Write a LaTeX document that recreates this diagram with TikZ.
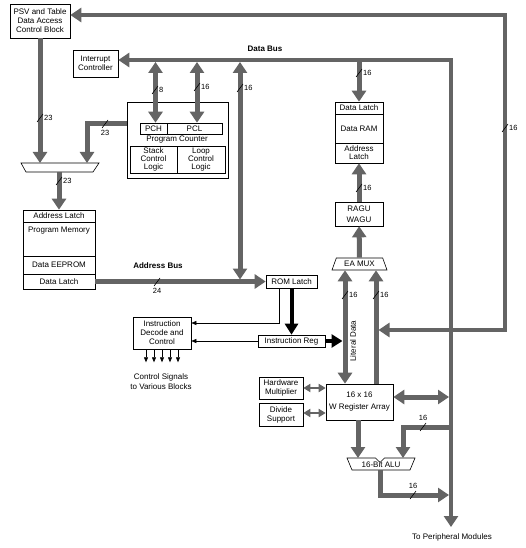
\documentclass[tikz,border=0pt]{standalone}
\usepackage{fontspec}
\setmainfont{Liberation Sans}
\usepackage{tikz}
\usetikzlibrary{arrows.meta,shapes.geometric}

\definecolor{busgray}{RGB}{100,100,100}

\tikzset{
    box/.style={draw, line width=0.6pt, inner sep=0pt, align=center, font=\fontsize{8}{9}\selectfont},
    txt/.style={inner sep=0pt, align=center, font=\fontsize{8}{9}\selectfont},
    bwtxt/.style={inner sep=0pt, font=\fontsize{7.5}{8}\selectfont},
    bus/.style={draw=busgray, line width=5pt},
    ringbus/.style={draw=busgray, line width=4pt},
    sidebus/.style={draw=busgray, line width=2.5pt},
    ctlbus/.style={draw=black, line width=4pt},
    sigline/.style={draw=black, line width=0.6pt},
    bigtri/.tip={Triangle[width=14pt,length=11pt]},
    midtri/.tip={Triangle[width=8pt,length=7pt]},
    ctltri/.tip={Triangle[width=13pt,length=11pt]},
    sigtri/.tip={Triangle[width=4pt,length=5pt]},
}

% bus width marks
\newcommand{\bwright}[3]{%
    \draw[sigline] (#1-3,#2+4) -- (#1+3,#2-4);
    \node[bwtxt, anchor=west] at (#1+4,#2) {#3};}
\newcommand{\bwbelow}[3]{%
    \draw[sigline] (#1-3,#2+4) -- (#1+3,#2-4);
    \node[bwtxt, anchor=north] at (#1,#2+6) {#3};}
\newcommand{\bwabove}[3]{%
    \draw[sigline] (#1-3,#2+4) -- (#1+3,#2-4);
    \node[bwtxt, anchor=south] at (#1,#2-6) {#3};}

\begin{document}
\begin{tikzpicture}[x=1pt,y=-1pt]
    \useasboundingbox (0,0) rectangle (526,548);

    % blocks
    \node[box, minimum width=60pt, minimum height=34pt] (psv) at (40,21) {PSV and Table\\Data Access\\Control Block};
    \node[box, minimum width=45pt, minimum height=27pt] (intc) at (95.5,63.5) {Interrupt\\Controller};

    \node[box, minimum width=101pt, minimum height=76pt] (pcblk) at (177.5,140) {};
    \node[box, minimum width=27pt, minimum height=11pt] (pch) at (153.5,128.5) {PCH};
    \node[box, minimum width=55pt, minimum height=11pt] (pcl) at (194.5,128.5) {PCL};
    \node[txt] (pclbl) at (177,140) {Program Counter};
    \node[box, minimum width=47pt, minimum height=27pt, font=\fontsize{8}{7.6}\selectfont] (stack) at (153.5,159.5) {Stack\\Control\\Logic};
    \node[box, minimum width=48pt, minimum height=27pt, font=\fontsize{8}{7.6}\selectfont] (loop) at (201,159.5) {Loop\\Control\\Logic};

    \node[box, minimum width=48pt, minimum height=12pt] (dlatch) at (359,108) {Data Latch};
    \node[box, minimum width=48pt, minimum height=29pt] (dram) at (359,128.5) {Data RAM};
    \node[box, minimum width=48pt, minimum height=20pt, font=\fontsize{8}{8}\selectfont] (alatch) at (359,153) {Address\\Latch};
    \node[box, minimum width=48pt, minimum height=24pt] (agu) at (359,214) {RAGU\\[2pt]WAGU};
    \node[box, trapezium, trapezium angle=63, trapezium stretches=true,
          minimum width=55pt, minimum height=12pt] (eamux) at (359.5,264) {EA MUX};

    % program memory mux
    \coordinate (muxTL) at (21,163);
    \coordinate (muxTR) at (99,163);
    \coordinate (muxBR) at (93,172);
    \coordinate (muxBL) at (26,172);
    \draw[line width=0.6pt] (muxTL) -- (muxTR) -- (muxBR) -- (muxBL) -- cycle;

    \node[box, minimum width=72pt, minimum height=12pt] (pmal) at (59,216) {Address Latch};
    \node[box, minimum width=72pt, minimum height=34pt] (pmem) at (59,239) {};
    \node[txt] (pmlbl) at (59,231) {Program Memory};
    \node[box, minimum width=72pt, minimum height=18pt] (eeprom) at (59,265) {Data EEPROM};
    \node[box, minimum width=72pt, minimum height=15pt] (pmdl) at (59,281.5) {Data Latch};

    \node[box, minimum width=51pt, minimum height=13pt] (romlatch) at (291.5,281.5) {ROM Latch};
    \node[box, minimum width=67pt, minimum height=12pt] (ireg) at (291.5,341) {Instruction Reg};
    \node[box, minimum width=58pt, minimum height=32pt] (idec) at (162,333) {Instruction\\Decode and\\Control};
    \node[txt, font=\fontsize{8}{10}\selectfont] (ctlsig) at (161,382) {Control Signals\\to Various Blocks};

    \node[box, minimum width=44pt, minimum height=22pt] (hwmul) at (281,388) {Hardware\\Multiplier};
    \node[box, minimum width=44pt, minimum height=23pt] (divsup) at (281,414.5) {Divide\\Support};
    \node[box, minimum width=67pt, minimum height=36pt] (wreg) at (359.5,402) {16 x 16\\[3pt]W Register Array};

    % ALU
    \draw[line width=0.6pt] (347,458) -- (375.5,458) -- (380,462.5) -- (384.5,458) -- (415,458)
        -- (410,470) -- (352,470) -- cycle;
    \node[txt] (alulbl) at (381,465) {16-Bit ALU};

    \node[txt] (periph) at (452,537) {To Peripheral Modules};
    \node[txt, font=\bfseries\fontsize{8}{9}\selectfont] (dblbl) at (265,49) {Data Bus};
    \node[txt, font=\bfseries\fontsize{8}{9}\selectfont] (ablbl) at (158,266) {Address Bus};

    % bus points
    \coordinate (ringNE) at (505,15);
    \coordinate (ringSE) at (505,330);
    \coordinate (ringW) at (378.5,330);
    \coordinate (dbNE) at (451,60);
    \coordinate (dbS) at (451,527);
    \coordinate (db) at (0,62);
    \coordinate (dbdrop) at (240,62);
    \coordinate (abus) at (240,279.5);
    \coordinate (litL) at (345,0);
    \coordinate (litR) at (376,0);
    \coordinate (pcout) at (127,124);
    \coordinate (pcturn) at (87,124);
    \coordinate (muxT) at (0,163);
    \coordinate (muxO) at (59,172);
    \coordinate (aluT) at (0,458);
    \coordinate (fbk) at (451,427);
    \coordinate (aluR) at (403,458);
    \coordinate (aluO) at (380,470);
    \coordinate (outR) at (449,495);

    % loops and data bus
    \draw[ringbus, bigtri-bigtri] (psv.east |- ringNE) -- (ringNE) -- (ringSE) -- (ringW);
    \draw[ringbus, bigtri-bigtri] (intc.east |- dbNE) -- (dbNE) -- (dbS);

    % program memory side
    \draw[bus, -bigtri] (psv.south) -- (psv.south |- muxT);
    \draw[bus, -bigtri] (pcout) -- (pcturn) -- (pcturn |- muxT);
    \draw[bus, -bigtri] (muxO) -- (pmal.north -| muxO);
    \draw[bus, -bigtri] (pmdl.east) -- (romlatch.west);
    \draw[bus, bigtri-bigtri] (dbdrop) -- (abus);

    % program counter
    \draw[bus, bigtri-bigtri] ([xshift=2pt]pch.north |- db) -- ([xshift=2pt]pch.north);
    \draw[bus, bigtri-bigtri] ([xshift=2.5pt]pcl.north |- db) -- ([xshift=2.5pt]pcl.north);

    % data side
    \draw[bus, -bigtri] (dlatch.north |- db) -- (dlatch.north);
    \draw[bus, -bigtri] (agu) -- (alatch);
    \draw[bus, -bigtri] (eamux) -- (agu);
    \draw[bus, bigtri-bigtri] (litL |- eamux.south) -- (litL |- wreg.north);
    \draw[bus, -bigtri] (litR |- wreg.north) -- (litR |- eamux.south);
    \node[txt, rotate=90] (litlbl) at (353,341) {Literal Data};

    % instruction path
    \draw[ctlbus, -ctltri] (romlatch) -- (ireg);
    \draw[ctlbus, -ctltri, shorten >=2.5pt] (ireg.east) -- (litL |- ireg.east);
    \draw[sigline, -sigtri] ([xshift=-12.5pt]romlatch.south) |- ([yshift=10pt]idec.east);
    \draw[sigline, -sigtri] (ireg.west) -- (idec.east |- ireg.west);
    \foreach \dx in {-16,-8,0,8,16}
        \draw[sigline, -sigtri] ([xshift=\dx pt]idec.south) -- ++(0,13);

    % W registers and ALU
    \draw[sidebus, midtri-midtri] (hwmul.east) -- (hwmul.east -| wreg.west);
    \draw[sidebus, midtri-midtri] ([yshift=1.5pt]divsup.east) -- ([yshift=1.5pt]divsup.east -| wreg.west);
    \draw[bus, bigtri-bigtri, shorten >=2pt] ([yshift=5pt]wreg.east) -- ([yshift=5pt]wreg.east -| dbS);
    \draw[bus, -bigtri] ([xshift=-1.5pt]wreg.south) -- ([xshift=-1.5pt]wreg.south |- aluT);
    \draw[bus, -bigtri] (fbk) -| (aluR);
    \draw[bus, -bigtri] (aluO) |- (outR);

    % bus widths
    \bwright{40}{118}{23}
    \bwbelow{105}{124}{23}
    \bwright{59}{181}{23}
    \bwbelow{157}{282}{24}
    \bwright{155}{90}{8}
    \bwright{197}{87}{16}
    \bwright{240}{88}{16}
    \bwright{359}{73}{16}
    \bwright{359}{188}{16}
    \bwright{345}{295}{16}
    \bwright{376}{295}{16}
    \bwright{505}{128}{16}
    \bwabove{423}{427}{16}
    \bwabove{413}{495}{16}
\end{tikzpicture}
\end{document}
